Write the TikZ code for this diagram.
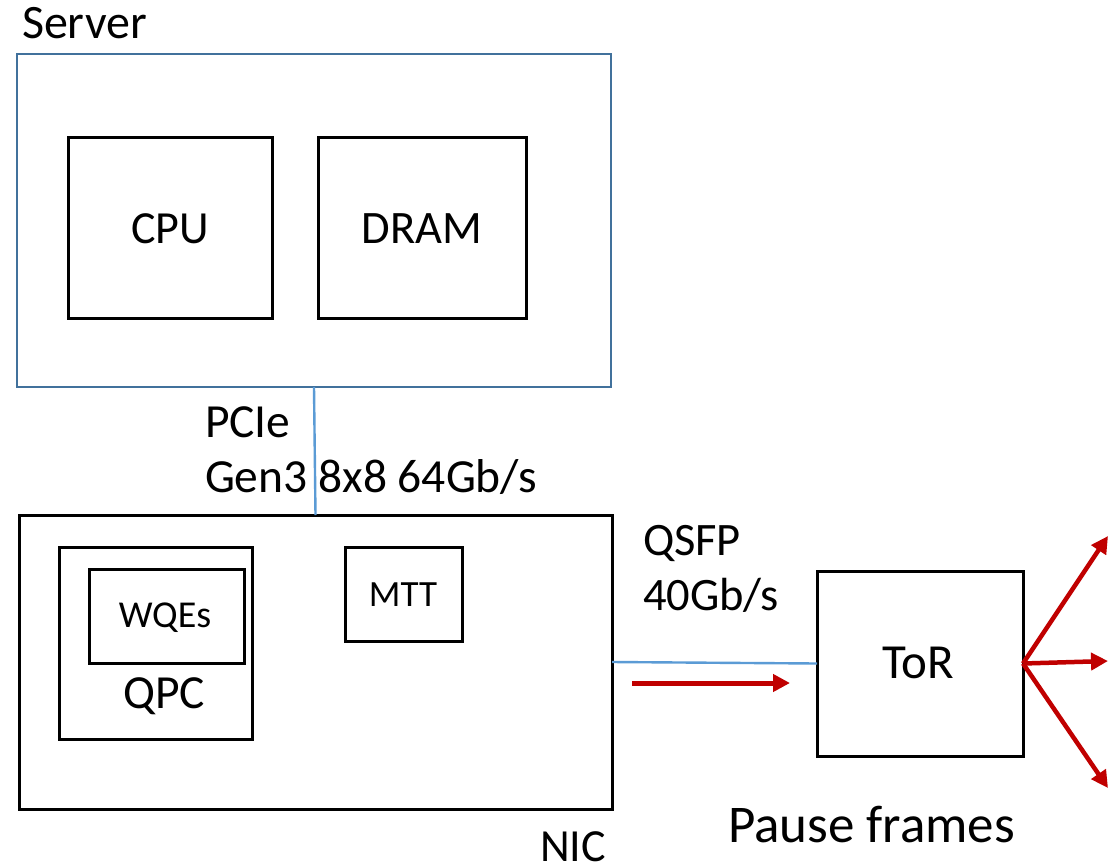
\documentclass[tikz,border=0pt]{standalone}
\usepackage{fontspec}
\setmainfont{Carlito}
\usetikzlibrary{arrows.meta}
\definecolor{srvblue}{HTML}{41719C}
\definecolor{lnblue}{HTML}{5B9BD5}
\definecolor{pred}{HTML}{C00000}
\begin{document}
\begin{tikzpicture}[x=1pt,y=-1pt,
  box/.style={draw=black,line width=3pt,inner sep=0pt,outer sep=0pt},
  sbox/.style={draw=srvblue,line width=2.6pt,inner sep=0pt,outer sep=0pt},
  lbl/.style={inner sep=0pt,outer sep=0pt,anchor=base},
  lblw/.style={inner sep=0pt,outer sep=0pt,anchor=base west},
  link/.style={draw=lnblue,line width=2.4pt},
  parrow/.style={draw=pred,line width=5pt,-{Triangle[length=17pt,width=17pt]}}
]
\useasboundingbox (0,0) rectangle (1111,865);
% Server
\node[sbox,minimum width=594pt,minimum height=333pt] (server) at (314,220.5) {};
\node[lblw,font=\fontsize{48}{52}\selectfont] (serverlbl) at (22,38) {Server};
\node[box,minimum width=204pt,minimum height=181pt] (cpu) at (170,227.5) {};
\node[lbl,font=\fontsize{46}{50}\selectfont] (cputxt) at (170,243) {CPU};
\node[box,minimum width=208pt,minimum height=181pt] (dram) at (422,227.5) {};
\node[lbl,font=\fontsize{46.5}{50}\selectfont] (dramtxt) at (422,243) {DRAM};
% NIC
\node[box,minimum width=593pt,minimum height=294pt] (nic) at (315.5,662) {};
\node[lblw,font=\fontsize{46}{50}\selectfont] (niclbl) at (540,861) {NIC};
\node[box,minimum width=193pt,minimum height=192pt] (qpc) at (155.5,643) {};
\node[lbl,font=\fontsize{47.5}{50}\selectfont] (qpctxt) at (164,708) {QPC};
\node[box,minimum width=155pt,minimum height=94pt] (wqe) at (166.5,616) {};
\node[lbl,font=\fontsize{38}{44}\selectfont] (wqetxt) at (165,627) {WQEs};
\node[box,minimum width=117pt,minimum height=94pt] (mtt) at (403.5,594) {};
\node[lbl,font=\fontsize{37}{42}\selectfont] (mtttxt) at (403,606) {MTT};
% PCIe link
\draw[link] (server.south) -- (nic.north);
\node[lblw,font=\fontsize{47.5}{52}\selectfont] (pcie1) at (205,437) {PCIe};
\node[lblw,font=\fontsize{47.5}{52}\selectfont] (pcie2) at (205,492) {Gen3 8x8 64Gb/s};
% ToR
\node[box,minimum width=206pt,minimum height=185pt] (tor) at (920,663.5) {};
\node[lbl,font=\fontsize{49}{54}\selectfont] (tortxt) at (918,678) {ToR};
\draw[link] (nic.east) -- (tor.west);
\node[lblw,font=\fontsize{46.5}{52}\selectfont] (qsfp1) at (643,555) {QSFP};
\node[lblw,font=\fontsize{46.5}{52}\selectfont] (qsfp2) at (643,610) {40Gb/s};
% Pause frames arrows
\coordinate (pa) at (632,683);
\coordinate (pb) at (790,683);
\draw[parrow] (pa) -- (pb);
\coordinate (fu) at (1108,536);
\coordinate (fm) at (1108,661);
\coordinate (fd) at (1108,788);
\draw[parrow,line width=4.5pt] (tor.east) -- (fu);
\draw[parrow,line width=4.5pt] (tor.east) -- (fm);
\draw[parrow,line width=4.5pt] (tor.east) -- (fd);
\node[lblw,font=\fontsize{53}{58}\selectfont] (pause) at (728,842) {Pause frames};
\end{tikzpicture}
\end{document}
